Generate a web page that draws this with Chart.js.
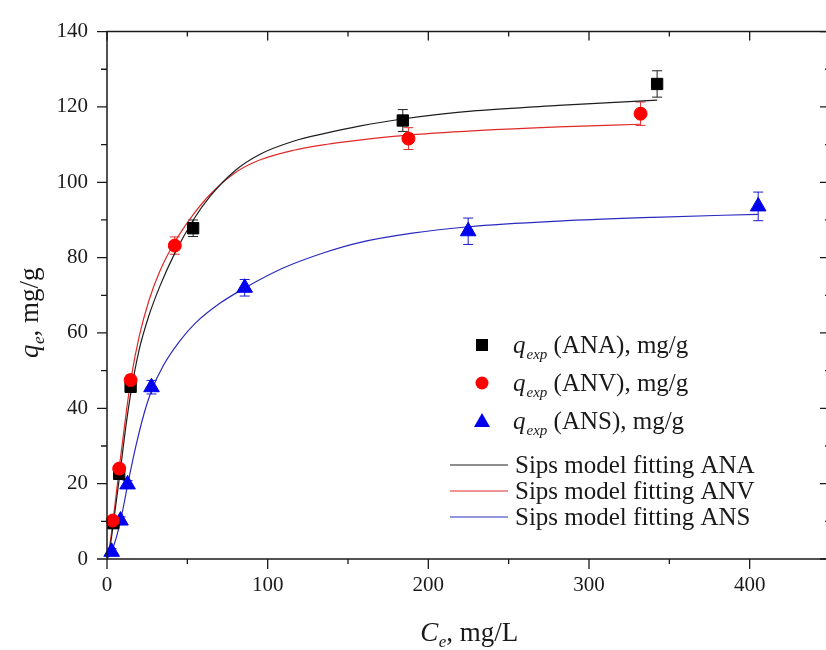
<!DOCTYPE html>
<html>
<head>
<meta charset="utf-8">
<script src="https://cdn.jsdelivr.net/npm/chart.js@4/dist/chart.umd.min.js"></script>
<style>
  html, body { margin: 0; padding: 0; background: #ffffff; overflow: hidden; }
  #wrap { width: 826px; height: 650px; overflow: hidden; position: relative; }
  canvas { display: block; }
</style>
</head>
<body>
<div id="wrap"><canvas id="c" width="840" height="650"></canvas></div>
<script>
// ---------- data ----------
const anaX = [3.9, 7.6, 14.7, 53.6, 184.1, 342.4];
const anaY = [9.5, 22.6, 45.7, 87.8, 116.4, 126.1];
const anaErr = [1.0, 1.2, 1.3, 2.2, 2.9, 3.5];

const anvX = [3.6, 7.6, 14.7, 42.2, 187.6, 332.1];
const anvY = [10.2, 24.0, 47.5, 83.2, 111.6, 118.2];
const anvErr = [1.0, 1.2, 1.3, 2.3, 2.9, 3.1];

const ansX = [2.9, 8.4, 12.8, 27.7, 85.7, 224.8, 405.3];
const ansY = [1.9, 10.2, 19.8, 45.6, 72.0, 87.0, 93.6];
const ansErr = [0.8, 1.0, 1.0, 1.8, 2.2, 3.5, 3.8];

// Sips model fitting curves
const fitAnaX = [0, 2, 4, 8, 12, 15, 20, 26, 33, 42, 54, 64, 80, 95, 116, 137, 157, 184, 230, 281, 342.4];
const fitAnaY = [0, 3.5, 9.5, 22.5, 36, 44.5, 55.5, 64.5, 72.5, 81, 90.2, 96.2, 103.2, 107.4, 110.9, 113.1, 114.9, 116.8, 119, 120.4, 121.8];

const fitAnvX = [0, 2, 4, 8, 12, 15, 20, 26, 33, 42, 54, 64, 80, 95, 116, 137, 157, 184, 230, 281, 332.1];
const fitAnvY = [0, 4.5, 11, 25.5, 39, 48, 59, 68.5, 76.5, 84, 91.6, 96.7, 102.6, 105.9, 108.5, 110.1, 111.2, 112.4, 113.7, 114.7, 115.4];

const fitAnsX = [0, 3, 6, 9, 13, 18, 23, 28, 35, 45, 55, 70, 86, 110, 135, 157, 190, 225, 281, 340, 405.3];
const fitAnsY = [0, 2.2, 6, 11.3, 20, 30, 38.5, 45, 51.3, 57.7, 62.6, 67.8, 72.0, 77.3, 81.3, 84.0, 86.5, 88.2, 89.7, 90.7, 91.5];

// axis ticks
const xMajorTicks = [0, 100, 200, 300, 400];
const xMinorTicks = [50, 150, 250, 350, 450];
const yMajorTicks = [0, 20, 40, 60, 80, 100, 120, 140];
const yMinorTicks = [10, 30, 50, 70, 90, 110, 130];

// legend / title texts
const seriesNames = ['ANA', 'ANV', 'ANS'];
const fitLabels = ['Sips model fitting ANA', 'Sips model fitting ANV', 'Sips model fitting ANS'];
const xTitleMain = 'C', xTitleSub = 'e', xTitleRest = ', mg/L';
const yTitleMain = 'q', yTitleSub = 'e', yTitleRest = ', mg/g';

// ---------- helpers ----------
const SERIF = "'Liberation Serif', 'Times New Roman', 'DejaVu Serif', serif";
const toPts = (xs, ys) => xs.map((x, i) => ({ x: x, y: ys[i] }));

const pointSets = [
  { x: anaX, y: anaY, err: anaErr, color: '#000000', errColor: '#222222', style: 'rect', radius: 8, order: 2 },
  { x: anvX, y: anvY, err: anvErr, color: '#ff0000', errColor: '#e03030', style: 'circle', radius: 6.5, order: 1 },
  { x: ansX, y: ansY, err: ansErr, color: '#0000ee', errColor: '#1a1acc', style: 'triangle', radius: 9, order: 3 }
];
const fitSets = [
  { x: fitAnaX, y: fitAnaY, color: '#1e1e1e' },
  { x: fitAnvX, y: fitAnvY, color: '#e02828' },
  { x: fitAnsX, y: fitAnsY, color: '#2a2ac0' }
];

const datasets = [];
fitSets.forEach((f, i) => {
  datasets.push({
    type: 'line',
    label: fitLabels[i],
    data: toPts(f.x, f.y),
    borderColor: f.color,
    borderWidth: 1.2,
    pointRadius: 0,
    fill: false,
    cubicInterpolationMode: 'monotone',
    order: 10 + i
  });
});
pointSets.forEach((p, i) => {
  datasets.push({
    type: 'scatter',
    label: seriesNames[i],
    data: toPts(p.x, p.y),
    backgroundColor: p.color,
    borderColor: p.color,
    borderWidth: 1,
    pointStyle: p.style,
    pointRadius: p.radius,
    pointHoverRadius: p.radius,
    clip: false,
    order: p.order
  });
});

// error bars (drawn through the scales)
const errorBarPlugin = {
  id: 'errorBars',
  beforeDatasetsDraw(chart) {
    const ctx = chart.ctx, xs = chart.scales.x, ys = chart.scales.y;
    ctx.save();
    ctx.lineWidth = 1;
    pointSets.forEach(p => {
      ctx.strokeStyle = p.errColor;
      p.x.forEach((xv, i) => {
        const px = xs.getPixelForValue(xv);
        const top = ys.getPixelForValue(p.y[i] + p.err[i]);
        const bot = ys.getPixelForValue(p.y[i] - p.err[i]);
        ctx.beginPath();
        ctx.moveTo(px, top); ctx.lineTo(px, bot);
        ctx.moveTo(px - 5, top); ctx.lineTo(px + 5, top);
        ctx.moveTo(px - 5, bot); ctx.lineTo(px + 5, bot);
        ctx.stroke();
      });
    });
    ctx.restore();
  }
};

// frame and tick marks (through the scales)
const framePlugin = {
  id: 'frame',
  afterDraw(chart) {
    const ctx = chart.ctx, a = chart.chartArea, xs = chart.scales.x, ys = chart.scales.y;
    ctx.save();
    ctx.strokeStyle = '#1a1a1a';
    ctx.lineWidth = 1.5;
    ctx.beginPath();
    ctx.rect(a.left, a.top, a.right - a.left, a.bottom - a.top);
    ctx.stroke();
    ctx.lineWidth = 1.3;
    ctx.beginPath();
    const xt = (vals, len, lenTop) => vals.forEach(v => {
      const px = xs.getPixelForValue(v);
      ctx.moveTo(px, a.bottom); ctx.lineTo(px, a.bottom + len);
      ctx.moveTo(px, a.top); ctx.lineTo(px, a.top + lenTop);
    });
    const yt = (vals, len, lenR) => vals.forEach(v => {
      const py = ys.getPixelForValue(v);
      ctx.moveTo(a.left, py); ctx.lineTo(a.left - len, py);
      ctx.moveTo(a.right, py); ctx.lineTo(a.right - lenR, py);
    });
    xt(xMajorTicks, 10, 9);
    xt(xMinorTicks, 5, 5);
    yt(yMajorTicks, 10, 10);
    yt(yMinorTicks, 6, 5);
    ctx.stroke();
    ctx.restore();
  }
};

// axis titles with subscripts
function drawSubText(ctx, x, y, main, sub, rest, size, center) {
  const fMain = 'italic ' + size + 'px ' + SERIF;
  const fSub = 'italic ' + Math.round(size * 0.62) + 'px ' + SERIF;
  const fRest = size + 'px ' + SERIF;
  ctx.font = fMain; const w1 = ctx.measureText(main).width;
  ctx.font = fSub; const w2 = ctx.measureText(sub).width;
  ctx.font = fRest; const w3 = ctx.measureText(rest).width;
  let sx = center ? x - (w1 + w2 + w3) / 2 : x;
  ctx.textBaseline = 'alphabetic';
  ctx.textAlign = 'left';
  ctx.font = fMain; ctx.fillText(main, sx, y); sx += w1 + 0.5;
  ctx.font = fSub; ctx.fillText(sub, sx, y + size * 0.22); sx += w2;
  ctx.font = fRest; ctx.fillText(rest, sx, y);
}

const titlePlugin = {
  id: 'titles',
  afterDraw(chart) {
    const ctx = chart.ctx;
    ctx.save();
    ctx.fillStyle = '#1a1a1a';
    drawSubText(ctx, 469, 641, xTitleMain, xTitleSub, xTitleRest, 27, true);
    ctx.translate(38, 313);
    ctx.rotate(-Math.PI / 2);
    drawSubText(ctx, 0, 0, yTitleMain, yTitleSub, yTitleRest, 27, true);
    ctx.restore();
  }
};

// legend with subscripts
const legendPlugin = {
  id: 'customLegend',
  afterDraw(chart) {
    const ctx = chart.ctx;
    ctx.save();
    const markerX = 482, textX = 513;
    const rowsY = [345, 383, 421];
    const size = 25;
    pointSets.forEach((p, i) => {
      const y = rowsY[i];
      ctx.fillStyle = p.color;
      ctx.beginPath();
      if (p.style === 'rect') {
        ctx.rect(markerX - 6, y - 6, 12, 12);
      } else if (p.style === 'circle') {
        ctx.arc(markerX, y, 6.5, 0, Math.PI * 2);
      } else {
        ctx.moveTo(markerX, y - 8);
        ctx.lineTo(markerX + 8, y + 6);
        ctx.lineTo(markerX - 8, y + 6);
        ctx.closePath();
      }
      ctx.fill();
      ctx.fillStyle = '#1a1a1a';
      ctx.textBaseline = 'alphabetic';
      ctx.textAlign = 'left';
      const base = y + 8;
      ctx.font = 'italic ' + size + 'px ' + SERIF;
      ctx.fillText('q', textX, base);
      let sx = textX + ctx.measureText('q').width + 1;
      ctx.font = 'italic 15px ' + SERIF;
      ctx.fillText('exp', sx, base + 6);
      sx += ctx.measureText('exp').width;
      ctx.font = size + 'px ' + SERIF;
      ctx.fillText(' (' + seriesNames[i] + '), mg/g', sx, base);
    });
    const lineRows = [465, 491, 517];
    fitSets.forEach((f, i) => {
      const y = lineRows[i];
      ctx.strokeStyle = f.color;
      ctx.lineWidth = 1.2;
      ctx.beginPath();
      ctx.moveTo(450, y); ctx.lineTo(508, y);
      ctx.stroke();
      ctx.fillStyle = '#1a1a1a';
      ctx.font = size + 'px ' + SERIF;
      ctx.textBaseline = 'alphabetic';
      ctx.fillText(fitLabels[i], 515, y + 8);
    });
    ctx.restore();
  }
};

new Chart(document.getElementById('c'), {
  type: 'scatter',
  data: { datasets: datasets },
  options: {
    responsive: false,
    animation: false,
    devicePixelRatio: 1,
    layout: { padding: { left: 0, top: 25, right: 8.5, bottom: 0 } },
    plugins: { legend: { display: false }, tooltip: { enabled: false } },
    scales: {
      x: {
        type: 'linear', position: 'bottom', min: 0, max: 450,
        grid: { display: false, drawTicks: false },
        border: { display: false },
        ticks: { padding: 14, autoSkip: false, maxRotation: 0, color: '#1a1a1a', font: { family: SERIF, size: 21 } },
        afterBuildTicks: s => { s.ticks = xMajorTicks.map(v => ({ value: v })); },
        afterFit: s => { s.height = 91; }
      },
      y: {
        type: 'linear', position: 'left', min: 0, max: 140,
        grid: { display: false, drawTicks: false },
        border: { display: false },
        ticks: { padding: 19, autoSkip: false, color: '#1a1a1a', font: { family: SERIF, size: 21 } },
        afterBuildTicks: s => { s.ticks = yMajorTicks.map(v => ({ value: v })); },
        afterFit: s => { s.width = 107; }
      }
    }
  },
  plugins: [errorBarPlugin, framePlugin, titlePlugin, legendPlugin]
});
</script>
</body>
</html>
